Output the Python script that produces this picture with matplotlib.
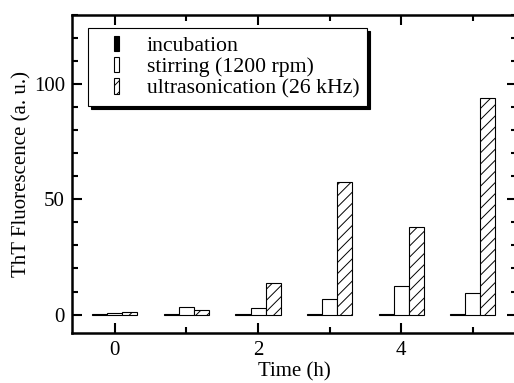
import numpy as np
from matplotlib import pyplot as plt
from matplotlib.ticker import MultipleLocator
from matplotlib.patches import Rectangle
from matplotlib.container import BarContainer
from matplotlib.legend_handler import HandlerPatch, update_from_first_child

# data
times = [0, 1, 2, 3, 4, 5]
incubation = [0.3, 0.3, 0.3, 0.3, 0.3, 0.3]
stirring = [0.5, 3.3, 3.0, 6.9, 12.4, 9.4]
ultrasonication = [1.0, 2.2, 13.9, 57.4, 37.9, 94.2]
labels = ['incubation', 'stirring (1200 rpm)', 'ultrasonication (26 kHz)']
xticks = [0, 2, 4]
yticks = [0, 50, 100]

plt.rcParams['font.family'] = ['Liberation Serif', 'DejaVu Serif']
plt.rcParams['hatch.linewidth'] = 0.7
fs = 15


def narrow_bar(legend, orig_handle, xdescent, ydescent, width, height, fontsize):
    # small upright rectangle in the middle of the handle box
    bw = 3.6
    return Rectangle((-xdescent + width / 2 - bw / 2, -ydescent), bw, height)


fig = plt.figure(figsize=(5.14, 3.83), dpi=100)
ax = fig.add_axes([0.140, 0.1305, 1.006 - 0.140, 0.9608 - 0.1305])

x = np.array(times, dtype=float)
w = 0.21
ax.bar(x - w, incubation, w, color='black', edgecolor='black', linewidth=0.8, label=labels[0])
ax.bar(x, stirring, w, color='white', edgecolor='black', linewidth=0.8, label=labels[1])
ax.bar(x + w, ultrasonication, w, color='white', edgecolor='black', linewidth=0.8,
       hatch='///', label=labels[2])

ax.set_xlim(-0.60, 5.62)
ax.set_ylim(-8, 130)
ax.set_xticks(xticks)
ax.xaxis.set_minor_locator(MultipleLocator(1))
ax.set_yticks(yticks)
ax.yaxis.set_minor_locator(MultipleLocator(10))

ax.tick_params(which='both', direction='in', top=True, right=True, width=1.5, labelsize=fs)
ax.tick_params(which='major', length=7)
ax.tick_params(which='minor', length=4)
ax.tick_params(axis='x', pad=6)
ax.tick_params(axis='y', pad=5)
for s in ax.spines.values():
    s.set_linewidth(1.8)

ax.set_xlabel('Time (h)', fontsize=fs, labelpad=1.5)
ax.set_ylabel('ThT Fluorescence (a. u.)', fontsize=fs, labelpad=2)

bar_handler = HandlerPatch(patch_func=narrow_bar, update_func=update_from_first_child)
leg = ax.legend(loc='upper left', bbox_to_anchor=(0.036, 0.959), fontsize=15.7,
                fancybox=False, framealpha=1, edgecolor='black',
                handlelength=1.95, handleheight=0.7, handletextpad=0.4,
                labelspacing=0.05, borderpad=0.35, borderaxespad=0,
                handler_map={BarContainer: bar_handler},
                shadow={'color': 'black', 'alpha': 1, 'ox': 2.2, 'oy': -2.2})
leg.get_frame().set_linewidth(0.8)

plt.savefig('out.png', dpi=100)
